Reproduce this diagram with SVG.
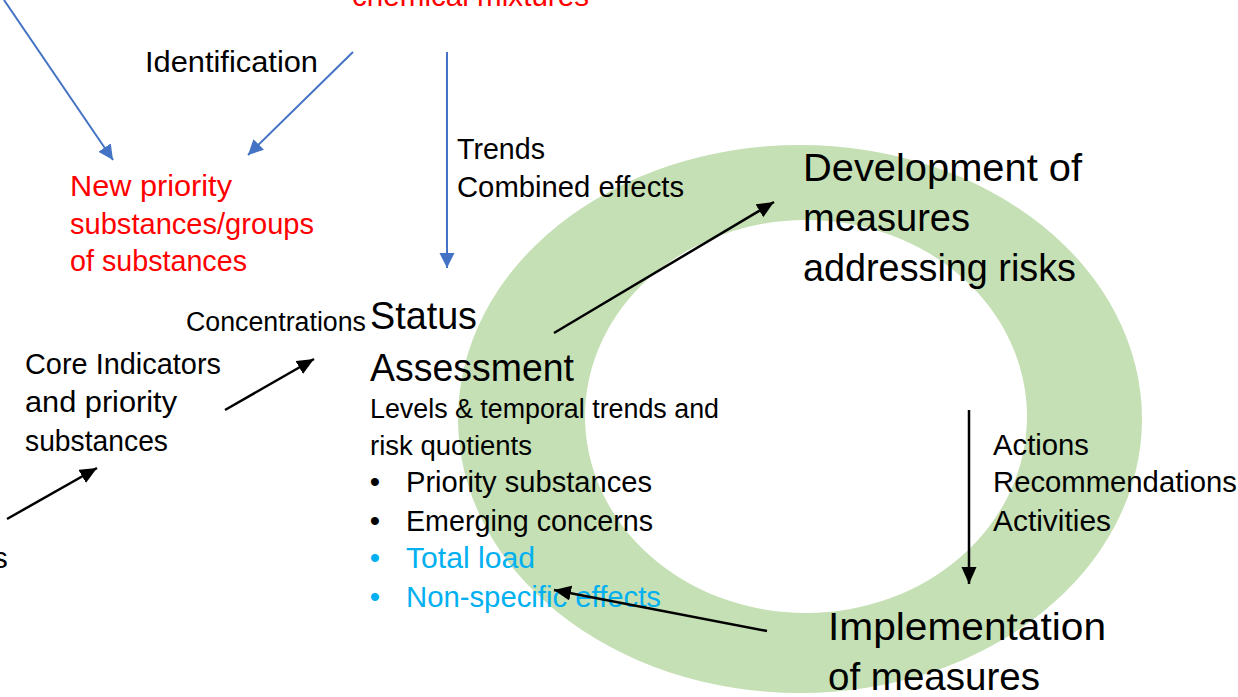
<svg xmlns="http://www.w3.org/2000/svg" width="1238" height="697" viewBox="0 0 1238 697">
<style>
text{font-family:"Liberation Sans",Arial,sans-serif;fill:#000}
.m{font-size:29.5px}
.s{font-size:27px}
.l{font-size:39px}
.red{fill:#FF0000}
.cy{fill:#00B0F0}
.blue{stroke:#4472C4;stroke-width:2;fill:none}
.blk{stroke:#000;stroke-width:2.5;fill:none}
</style>
<defs>
<marker id="ab" markerUnits="userSpaceOnUse" markerWidth="16" markerHeight="16" refX="15" refY="7.5" orient="auto"><path d="M0,0 L15,7.5 L0,15 z" fill="#4472C4"/></marker>
<marker id="ak" markerUnits="userSpaceOnUse" markerWidth="18" markerHeight="16" refX="17" refY="7.5" orient="auto"><path d="M0,0 L17,7.5 L0,15 z" fill="#000"/></marker>
</defs>
<rect width="1238" height="697" fill="#fff"/>
<g id="cycle-ring">
<path fill="#C5E0B4" fill-rule="evenodd" d="M458,419 a342,274 0 1,0 684,0 a342,274 0 1,0 -684,0 Z M585,416.5 a221,196.5 0 1,0 442,0 a221,196.5 0 1,0 -442,0 Z"/>
</g>
<g id="chemical-mixtures"><text class="m red" x="352" y="6" textLength="237" lengthAdjust="spacingAndGlyphs">chemical mixtures</text></g>
<g id="identification-label"><text class="m" x="145" y="72" textLength="173" lengthAdjust="spacingAndGlyphs">Identification</text></g>
<g id="trends-label">
<text class="m" x="457" y="159" textLength="88" lengthAdjust="spacingAndGlyphs">Trends</text>
<text class="m" x="457" y="197" textLength="227" lengthAdjust="spacingAndGlyphs">Combined effects</text>
</g>
<g id="new-priority">
<text class="m red" x="70" y="196" textLength="162" lengthAdjust="spacingAndGlyphs">New priority</text>
<text class="m red" x="70" y="234" textLength="244" lengthAdjust="spacingAndGlyphs">substances/groups</text>
<text class="m red" x="70" y="271" textLength="177" lengthAdjust="spacingAndGlyphs">of substances</text>
</g>
<g id="development">
<text class="l" x="803" y="181" textLength="279" lengthAdjust="spacingAndGlyphs">Development of</text>
<text class="l" x="803" y="231" textLength="167" lengthAdjust="spacingAndGlyphs">measures</text>
<text class="l" x="803" y="281" textLength="273" lengthAdjust="spacingAndGlyphs">addressing risks</text>
</g>
<g id="concentrations-label"><text class="s" x="186" y="331" textLength="180" lengthAdjust="spacingAndGlyphs">Concentrations</text></g>
<g id="status-assessment">
<text class="l" x="370" y="329" textLength="107" lengthAdjust="spacingAndGlyphs">Status</text>
<text class="l" x="370" y="381" textLength="204" lengthAdjust="spacingAndGlyphs">Assessment</text>
<text class="s" x="370" y="418" textLength="349" lengthAdjust="spacingAndGlyphs">Levels &amp; temporal trends and</text>
<text class="s" x="370" y="455" textLength="162" lengthAdjust="spacingAndGlyphs">risk quotients</text>
<text class="m" x="375" y="492" text-anchor="middle">•</text>
<text class="m" x="406" y="492" textLength="246" lengthAdjust="spacingAndGlyphs">Priority substances</text>
<text class="m" x="375" y="531" text-anchor="middle">•</text>
<text class="m" x="406" y="531" textLength="247" lengthAdjust="spacingAndGlyphs">Emerging concerns</text>
<text class="m cy" x="375" y="568" text-anchor="middle">•</text>
<text class="m cy" x="406" y="568" textLength="129" lengthAdjust="spacingAndGlyphs">Total load</text>
<text class="m cy" x="375" y="607" text-anchor="middle">•</text>
<text class="m cy" x="406" y="607" textLength="255" lengthAdjust="spacingAndGlyphs">Non-specific effects</text>
</g>
<g id="core-indicators">
<text class="m" x="25" y="374" textLength="196" lengthAdjust="spacingAndGlyphs">Core Indicators</text>
<text class="m" x="25" y="412" textLength="152" lengthAdjust="spacingAndGlyphs">and priority</text>
<text class="m" x="25" y="451" textLength="143" lengthAdjust="spacingAndGlyphs">substances</text>
</g>
<g id="left-fragment"><text class="m" x="-7" y="568">s</text></g>
<g id="actions-label">
<text class="m" x="993" y="455" textLength="96" lengthAdjust="spacingAndGlyphs">Actions</text>
<text class="m" x="993" y="492" textLength="244" lengthAdjust="spacingAndGlyphs">Recommendations</text>
<text class="m" x="993" y="531" textLength="118" lengthAdjust="spacingAndGlyphs">Activities</text>
</g>
<g id="implementation">
<text class="l" x="828" y="640" textLength="278" lengthAdjust="spacingAndGlyphs">Implementation</text>
<text class="l" x="828" y="690" textLength="212" lengthAdjust="spacingAndGlyphs">of measures</text>
</g>
<g id="connectors">
<line class="blue" x1="4" y1="0" x2="113" y2="160" marker-end="url(#ab)"/>
<line class="blue" x1="353" y1="52" x2="248" y2="155" marker-end="url(#ab)"/>
<line class="blue" x1="447" y1="52" x2="447" y2="268" marker-end="url(#ab)"/>
<line class="blk" x1="225" y1="410" x2="314" y2="359" marker-end="url(#ak)"/>
<line class="blk" x1="7" y1="519" x2="97" y2="468" marker-end="url(#ak)"/>
<line class="blk" x1="554" y1="333" x2="774" y2="202" marker-end="url(#ak)"/>
<line class="blk" x1="969" y1="410" x2="969" y2="584" marker-end="url(#ak)"/>
<line class="blk" x1="767" y1="631" x2="554" y2="590" marker-end="url(#ak)"/>
</g>
</svg>
